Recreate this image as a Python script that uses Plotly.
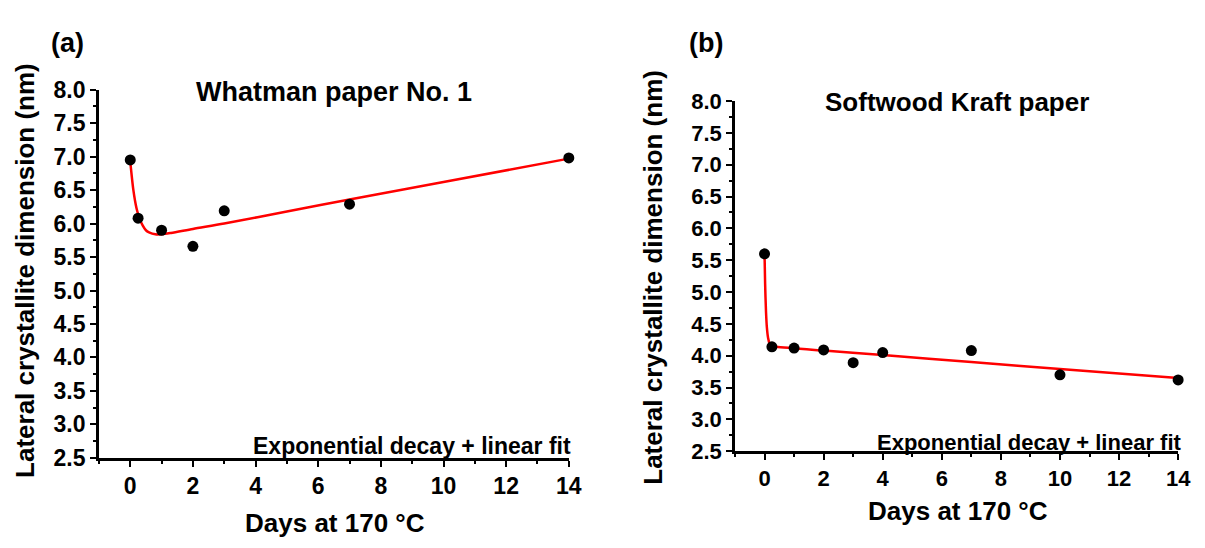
import plotly.graph_objects as go

# ---- data ----
days_a = [0, 0.25, 1, 2, 3, 7, 14]
size_a = [6.95, 6.08, 5.90, 5.66, 6.19, 6.29, 6.98]
fit_x_a = [0, 0.1, 0.2, 0.3, 0.4, 0.5, 0.6, 0.8, 1.0, 1.3, 2, 3, 5, 7, 10, 14]
fit_y_a = [6.93, 6.50, 6.23, 6.07, 5.97, 5.90, 5.87, 5.84, 5.84, 5.86, 5.92, 6.00, 6.18, 6.36, 6.62, 6.97]

days_b = [0, 0.25, 1, 2, 3, 4, 7, 10, 14]
size_b = [5.60, 4.14, 4.12, 4.09, 3.89, 4.05, 4.08, 3.70, 3.62]
fit_x_b = [0, 0.02, 0.05, 0.08, 0.12, 0.17, 0.25, 0.4, 2, 4, 7, 10, 14]
fit_y_b = [5.61, 5.13, 4.69, 4.44, 4.28, 4.19, 4.15, 4.14, 4.08, 4.01, 3.90, 3.79, 3.65]

panel_titles = ["Whatman paper No. 1", "Softwood Kraft paper"]
panel_labels = ["(a)", "(b)"]
x_title = "Days at 170 °C"
y_title = "Lateral crystallite dimension (nm)"
fit_label = "Exponential decay + linear fit"

FONT = "Liberation Sans, Arial, sans-serif"

def f(size):
    return dict(family=FONT, size=size, color="black", weight="bold")

fig = go.Figure()

# panel (a)
fig.add_trace(go.Scatter(x=fit_x_a, y=fit_y_a, mode="lines", line=dict(color="#ff0000", width=2.5, shape="spline", smoothing=0.8),
                         xaxis="x", yaxis="y", showlegend=False, cliponaxis=False))
fig.add_trace(go.Scatter(x=days_a, y=size_a, mode="markers", marker=dict(color="black", size=11),
                         xaxis="x", yaxis="y", showlegend=False, cliponaxis=False))
# panel (b)
fig.add_trace(go.Scatter(x=fit_x_b, y=fit_y_b, mode="lines", line=dict(color="#ff0000", width=2.5, shape="spline", smoothing=0.8),
                         xaxis="x2", yaxis="y2", showlegend=False, cliponaxis=False))
fig.add_trace(go.Scatter(x=days_b, y=size_b, mode="markers", marker=dict(color="black", size=11),
                         xaxis="x2", yaxis="y2", showlegend=False, cliponaxis=False))

def xax(domain, anchor, fs):
    return dict(domain=domain, anchor=anchor, range=[-1, 14], tick0=0, dtick=2,
                showline=True, linecolor="black", linewidth=2.5, ticks="outside",
                ticklen=6, tickwidth=2, tickcolor="black", showgrid=False, zeroline=False,
                tickfont=f(fs),
                minor=dict(dtick=1, tick0=0, ticks="outside", ticklen=3, tickwidth=2, tickcolor="black"))

def yax(domain, anchor, fs):
    return dict(domain=domain, anchor=anchor, range=[2.5, 8.0], tick0=2.5, dtick=0.5,
                tickformat=".1f",
                showline=True, linecolor="black", linewidth=2.5, ticks="outside",
                ticklen=6, tickwidth=2, tickcolor="black", showgrid=False, zeroline=False,
                tickfont=f(fs),
                minor=dict(dtick=0.25, tick0=2.5, ticks="outside", ticklen=3, tickwidth=2, tickcolor="black"))

W, H = 1205, 548
fig.update_layout(
    width=W, height=H, margin=dict(l=0, r=0, t=0, b=0),
    paper_bgcolor="white", plot_bgcolor="white",
    xaxis=xax([100 / W, 575 / W], "y", 23),
    yaxis=yax([1 - 467 / H, 1 - 80.5 / H], "x", 23),
    xaxis2=xax([743 / W, 1191 / W], "y2", 22),
    yaxis2=yax([1 - 460 / H, 1 - 92.5 / H], "x2", 22),
)

ann = []
# panel letters
ann.append(dict(text=panel_labels[0], x=68 / W, y=1 - 31 / H, xref="paper", yref="paper",
                showarrow=False, font=f(27), xanchor="center", yanchor="middle"))
ann.append(dict(text=panel_labels[1], x=714 / W, y=1 - 31 / H, xref="paper", yref="paper",
                showarrow=False, font=f(27), xanchor="center", yanchor="middle"))
# panel titles
ann.append(dict(text=panel_titles[0], x=6.5, y=7.97, xref="x", yref="y", showarrow=False,
                font=f(27), xanchor="center", yanchor="middle"))
ann.append(dict(text=panel_titles[1], x=6.5, y=7.98, xref="x2", yref="y2", showarrow=False,
                font=f(26), xanchor="center", yanchor="middle"))
# fit labels
ann.append(dict(text=fit_label, x=14, y=2.67, xref="x", yref="y", showarrow=False, xshift=4,
                font=f(23), xanchor="right", yanchor="middle"))
ann.append(dict(text=fit_label, x=14, y=2.64, xref="x2", yref="y2", showarrow=False, xshift=5,
                font=f(22), xanchor="right", yanchor="middle"))
# axis titles
ann.append(dict(text=x_title, x=339 / W, y=1 - 535 / H, xref="paper", yref="paper", showarrow=False,
                font=f(26), xanchor="center", yanchor="middle"))
ann.append(dict(text=x_title, x=968 / W, y=1 - 523 / H, xref="paper", yref="paper", showarrow=False,
                font=f(26), xanchor="center", yanchor="middle"))
ann.append(dict(text=y_title, x=25 / W, y=1 - 270 / H, xref="paper", yref="paper", showarrow=False,
                font=f(26), textangle=-90, xanchor="center", yanchor="middle"))
ann.append(dict(text=y_title, x=660 / W, y=1 - 277 / H, xref="paper", yref="paper", showarrow=False,
                font=f(26), textangle=-90, xanchor="center", yanchor="middle"))
fig.update_layout(annotations=ann)

fig.write_html("out.html")
